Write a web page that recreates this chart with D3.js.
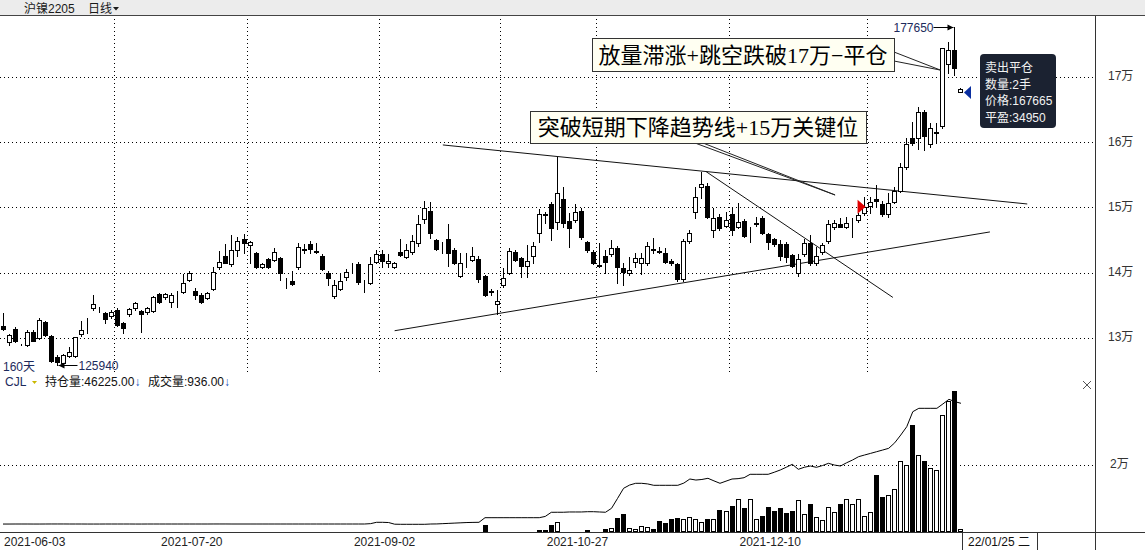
<!DOCTYPE html>
<html><head><meta charset="utf-8">
<script src="https://cdn.jsdelivr.net/npm/d3@7/dist/d3.min.js"></script>
<style>
html,body{margin:0;padding:0;background:#fff;overflow:hidden}
svg{display:block}
text{font-family:"Liberation Sans","Noto Sans CJK SC",sans-serif}
</style></head><body>
<svg id="chart" width="1145" height="550"></svg>
<script>
// ---------------- data ----------------
const symbol = "沪镍2205";
const period = "日线";
const startDate = "2021-06-03", endDate = "2022-01-25";
const holidays = ["2021-06-14","2021-09-20","2021-09-21","2021-10-01","2021-10-04","2021-10-05","2021-10-06","2021-10-07","2022-01-03"];

const opens = [131920,129520,131420,129020,129020,131050,130040,132490,130390,127220,
126210,127330,127330,130650,132300,134630,134400,133870,133460,134370,
132340,133720,134630,134220,134020,134270,136820,136320,135650,136670,
137080,138970,137240,136670,136170,137540,140910,142570,141420,143560,
145200,144300,143060,141000,142140,142030,142290,138800,138740,140910,
143600,144430,143400,142640,140080,136560,137540,139470,140300,141420,
138500,138460,141770,142900,141520,141000,143210,142530,143210,144680,
148260,149530,145090,144400,145240,143560,139580,142300,142030,142180,
139530,137100,135250,138160,140070,143250,142290,141160,142640,146210,
149000,150600,147800,151320,148000,148150,149530,144740,143210,141200,
142640,142950,143910,140760,139990,141770,141520,141520,143760,143450,
143060,141880,141420,139070,144980,149330,153160,153360,146620,148570,
147280,149030,147130,148000,146300,147490,148500,145960,145200,144480,
144430,142750,139990,142950,144590,141520,143300,144980,147030,147540,
147130,147800,148150,149180,150300,151300,150600,149070,150960,152640,
156310,160660,160660,164690,159790,161500,162540,172040,174180,167800];
const highs = [133870,130700,131770,129100,131310,131310,133150,132700,130500,127480,
127600,128760,130300,132740,133100,136670,134800,134100,134400,134600,
132600,134700,135650,134400,134800,136500,137000,137000,136900,137200,
139890,140350,137740,136900,137100,140910,143410,144430,145860,145500,
146010,145000,143300,141600,142300,143820,142500,139230,140350,144590,
144430,144980,144630,142900,140300,138970,139890,140600,141520,141770,
138900,142440,143560,143560,142900,141700,145200,144430,145860,148920,
151060,150860,145300,144800,147540,143800,143060,143150,144070,142600,
139800,137600,137440,140840,143820,143500,142500,144330,144830,149790,
149300,150830,157800,153160,149180,150600,150000,145000,143500,144680,
143560,145090,144200,141620,142530,143150,143150,144830,145350,144070,
143820,142200,141600,145200,146620,153160,155500,153800,149940,149000,
149420,149940,150710,148300,147130,148660,148800,146200,145400,145090,
144800,143000,142950,145200,145860,144070,144680,148150,148150,148410,
148660,148410,149180,151720,151720,153510,151000,152240,153250,156920,
160660,163200,165410,165000,162960,162960,174500,175450,177650,168300];
const lows = [131310,128970,129480,128950,128900,129600,129900,130400,126400,125940,
126000,127200,127200,130400,130900,134400,134000,132340,133200,131900,
130900,133500,134400,131050,133800,134100,135500,136100,134880,134880,
136900,138800,136060,135400,136000,137400,140700,141500,141160,142640,
143150,141520,140800,140800,140800,141900,138970,137700,138200,140700,
143150,143150,143100,140500,138200,136170,137400,139000,140000,138400,
137180,138300,141600,141000,141000,140800,142600,142400,143000,144170,
147740,145350,143600,143150,141110,141400,139400,141000,141800,138710,
136500,136700,133760,137900,139900,141800,139470,139470,141520,144740,
147650,145090,146800,147030,144020,147800,145300,143300,141400,140900,
139990,142700,138460,138200,139700,141000,139890,141300,143060,143060,
141520,141300,138800,138800,144700,148500,151500,148500,145600,146600,
147000,145860,146900,145500,144830,147300,146000,143670,144200,142000,
141720,141000,139580,142700,141300,141300,143000,144700,146800,147000,
146900,145600,147800,148900,149180,150190,148800,148600,150700,152400,
156000,159700,158980,158870,159300,159900,162240,170700,170350,167700];
const closes = [131510,130550,129670,129010,131050,129670,132840,130550,126610,126460,
127480,127990,130190,131310,132340,135290,134370,132950,134070,132080,
131570,134480,135400,133720,134630,136320,135650,136820,136670,136700,
138460,139990,136720,135600,136930,140150,141680,141620,143560,144980,
144560,144740,141000,141370,140910,143180,139990,138740,138310,143970,
143670,143760,143300,140600,139230,138200,138810,140240,140390,138620,
138460,141370,142900,141920,141920,141520,142790,143560,144940,147540,
149940,146120,143760,144430,143060,141620,141520,142380,142640,139150,
136670,137210,135800,139230,143330,141980,141110,141880,144170,149030,
148920,146970,152330,147650,146880,149420,145500,143560,141620,141160,
141770,143820,140910,140150,140500,142290,142290,144170,143560,143210,
141770,141520,139070,144980,146120,151630,153620,148660,148410,146880,
148150,146620,147890,145700,146360,147740,146120,144740,144430,142640,
142530,141110,142140,144590,141520,142640,144330,147540,147740,147130,
147740,147850,148920,150100,150960,151100,149070,150710,152640,156310,
159790,159900,164640,161010,162190,161580,174440,174180,171380,168250];
const volumes = [120,80,150,60,100,90,140,110,200,180,
130,90,160,120,100,140,80,110,90,130,
100,120,90,110,140,160,120,100,90,130,
150,170,120,110,100,160,180,140,200,150,
130,120,170,110,140,120,190,150,130,160,
140,110,120,180,160,150,130,120,140,170,
160,260,230,200,150,140,180,160,150,200,
190,170,160,150,220,180,170,160,150,240,
2000,300,250,280,320,260,300,280,350,380,
420,2000,2800,300,280,260,320,500,300,350,
800,1100,4200,5300,1100,700,1700,1300,700,3200,
2500,3700,4100,3700,4300,3700,3000,3700,3700,6500,
6200,7700,9800,7000,9800,3700,4600,7400,6200,7100,
5600,6200,9600,5200,8400,4500,3500,7500,6000,8400,
9900,8400,9900,4600,6000,17100,10500,11100,12900,21300,
20000,32000,23000,21300,19100,18500,35100,39300,42300,936];
const openInterest = [2760,2760,2770,2770,2770,2760,2760,2770,2780,2780,
2780,2770,2770,2770,2760,2760,2760,2770,2770,2770,
2770,2770,2760,2760,2770,2770,2770,2770,2770,2770,
2770,2770,2770,2770,2770,2780,2780,2780,2770,2770,
2770,2770,2770,2770,2770,2770,2770,2770,2770,2770,
2770,2770,2770,2770,2770,2770,2770,2770,2770,2770,
2770,2900,3380,3380,3300,2700,2660,2660,2660,2660,
2660,2770,2800,2900,3000,3100,3200,3300,3350,3380,
5040,5040,5040,5040,5040,5040,5040,5040,5040,5040,
5500,6980,7000,7000,7100,7100,7100,7200,7200,7100,
7000,8420,12000,15620,16800,17420,17420,17200,16700,16700,
16700,16700,16700,17500,18970,18600,18800,19220,18300,17420,
18200,18970,19100,19440,20660,20660,20660,20660,21400,22210,
23200,24260,22460,23200,23650,23180,23800,24620,24000,23650,
24800,25810,27000,27610,28200,28800,29400,30020,32000,34800,
37800,43200,44420,44420,44420,44420,46000,47660,46800,46225];

const priceTicks = [130000,140000,150000,160000,170000];
const volumeTicks = [20000];
const dateTicks = ["2021-06-03","2021-07-20","2021-09-02","2021-10-27","2021-12-10"];
const periodLabel = "160天";
const cursorLabel = "22/01/25 二";
const trade = {buyIndex:143, buyPrice:150190, sellIndex:159, sellPrice:167665, qty:2, profit:34950};
const trendLines = [
  [[73.0,159640],[170.0,150600]],
  [[65.0,131190],[163.8,146320]],
  [[116.7,155550],[147.7,136290]]
];
const notes = [
  {text:"放量滞涨+跳空跌破17万−平仓", target:[155.6,171100]},
  {text:"突破短期下降趋势线+15万关键位", target:[138.1,151980]}
];

// ---------------- layout ----------------
function buildTradingDays(start, end, closed) {
  const out = [];
  const e = new Date(end + "T00:00:00Z");
  for (let t = new Date(start + "T00:00:00Z"); t <= e; t = new Date(t.getTime() + 864e5)) {
    const wd = t.getUTCDay(), iso = t.toISOString().slice(0,10);
    if (wd === 0 || wd === 6 || closed.includes(iso)) continue;
    out.push(iso);
  }
  return out;
}
const dates = buildTradingDays(startDate, endDate, holidays);
const N = dates.length;
const axisX = 1095, mainTop = 17, mainBottom = 372, volBaseY = 531.7;

const svg = d3.select("#chart");
const x = d3.scaleBand().domain(dates).range([0, 964]);
const step = x.step();
const cx = i => x(dates[i]) + step / 2;
const xi = d3.scaleLinear().domain([0, N - 1]).range([cx(0), cx(N - 1)]);
const y = d3.scaleLinear().domain([130000, 170000]).range([338.5, 77.3]);
const yv = d3.scaleLinear().domain([0, 20000]).range([volBaseY, 465.3]);
const yoi = d3.scaleLinear().domain([0, 46225]).range([volBaseY, 403.3]);
const px = v => Math.floor(v) + 0.5;

// header
svg.append("rect").attr("x",0).attr("y",0).attr("width",1145).attr("height",16).attr("fill","#ececec");
svg.append("line").attr("x1",0).attr("x2",1145).attr("y1",15.5).attr("y2",15.5).attr("stroke","#444");
svg.append("text").attr("x",24).attr("y",12.5).attr("font-size",12).attr("fill","#1a1a1a").text(symbol);
svg.append("text").attr("x",88).attr("y",12.5).attr("font-size",12).attr("fill","#1a1a1a").text(period);
svg.append("path").attr("d","M113,7 L119,7 L116,10.5 Z").attr("fill","#1a1a1a");

// grid
const grid = svg.append("g").attr("stroke","#000").attr("stroke-dasharray","1,3").attr("shape-rendering","crispEdges");
grid.selectAll("line.h").data(priceTicks).join("line")
  .attr("x1",0).attr("x2",axisX).attr("y1",d=>px(y(d))).attr("y2",d=>px(y(d)));
const monthStarts = dates.filter((d,i)=> i>0 && d.slice(0,7) !== dates[i-1].slice(0,7));
grid.selectAll("line.v").data(monthStarts).join("line")
  .attr("x1",d=>px(x(d))).attr("x2",d=>px(x(d))).attr("y1",mainTop+2).attr("y2",mainBottom);
grid.selectAll("line.vv").data(volumeTicks).join("line")
  .attr("x1",0).attr("x2",axisX).attr("y1",d=>px(yv(d))).attr("y2",d=>px(yv(d)));

// trend lines
svg.append("g").selectAll("line").data(trendLines).join("line")
  .attr("x1",d=>xi(d[0][0])).attr("y1",d=>y(d[0][1]))
  .attr("x2",d=>xi(d[1][0])).attr("y2",d=>y(d[1][1]))
  .attr("stroke","#111").attr("stroke-width",1);

// candles
const idx = d3.range(N);
const cg = svg.append("g").attr("shape-rendering","crispEdges");
cg.selectAll("line.wick").data(idx).join("line")
  .attr("x1",i=>px(cx(i))).attr("x2",i=>px(cx(i)))
  .attr("y1",i=>Math.round(y(highs[i]))).attr("y2",i=>Math.round(y(lows[i]))+1)
  .attr("stroke","#000");
cg.selectAll("rect.body").data(idx).join("rect")
  .attr("x",i=>px(cx(i))-2).attr("width",4)
  .attr("y",i=>Math.round(y(Math.max(opens[i],closes[i])))+0.5)
  .attr("height",i=>Math.max(0, Math.round(y(Math.min(opens[i],closes[i]))) - Math.round(y(Math.max(opens[i],closes[i])))))
  .attr("fill",i=>closes[i]>=opens[i]?"#fff":"#000").attr("stroke","#000");

// volume bars + open interest line
const vg = svg.append("g").attr("shape-rendering","crispEdges");
vg.selectAll("rect").data(idx).join("rect")
  .attr("x",i=>px(cx(i))-2).attr("width",4)
  .attr("y",i=>Math.round(yv(volumes[i]))+0.5)
  .attr("height",i=>Math.max(0, Math.round(volBaseY) - Math.round(yv(volumes[i])) - 1))
  .attr("fill",i=>closes[i]>=opens[i]?"#fff":"#000").attr("stroke","#000");
svg.append("path").datum(openInterest)
  .attr("d", d3.line().x((d,i)=>cx(i)).y(d=>yoi(d)))
  .attr("fill","none").attr("stroke","#000").attr("stroke-width",1);

// annotation boxes
const boxStyle = [{x:592,y:38,w:302,h:33},{x:530,y:111,w:336,h:32}];
const starts = [[[894,52],[894,61]],[[695,143],[703,143]]];
notes.forEach((n,k)=>{
  const b = boxStyle[k];
  const tx = xi(n.target[0]), ty = y(n.target[1]);
  starts[k].forEach(s=>svg.append("line").attr("x1",s[0]).attr("y1",s[1]).attr("x2",tx).attr("y2",ty).attr("stroke","#222"));
  svg.append("rect").attr("x",b.x+0.5).attr("y",b.y+0.5).attr("width",b.w).attr("height",b.h)
    .attr("fill","#fffff2").attr("stroke","#333");
  svg.append("text").attr("x",b.x+b.w/2).attr("y",b.y+b.h/2+8).attr("text-anchor","middle")
    .attr("font-size",22).attr("fill","#000")
    .style("font-family",'"Liberation Serif","Noto Sans CJK SC",serif').text(n.text);
});

// trade markers
const bx = cx(trade.buyIndex), by = y(trade.buyPrice);
svg.append("path").attr("d",`M${bx-7},${by-7} L${bx+1},${by} L${bx-7},${by+7} Z`).attr("fill","#e00000");
const sx = cx(trade.sellIndex), sy = y(trade.sellPrice);
svg.append("path").attr("d",`M${sx+3},${sy} L${sx+10},${sy-6.5} L${sx+10},${sy+6.5} Z`).attr("fill","#0a2fa0");

// tooltip
const tip = svg.append("g").attr("transform","translate(980,54)");
tip.append("rect").attr("width",76).attr("height",74).attr("rx",4).attr("fill","#1b2231");
["卖出平仓", "数量:" + trade.qty + "手", "价格:" + trade.sellPrice, "平盈:" + trade.profit].forEach((t,k)=>{
  tip.append("text").attr("x",5).attr("y",18+k*16.7).attr("font-size",12).attr("fill","#f2f2f2").text(t);
});

// max / min labels
const iMax = d3.maxIndex(highs), iMin = d3.minIndex(lows);
const mxX = px(cx(iMax)), mxY = Math.round(y(highs[iMax]))+0.5;
svg.append("line").attr("x1",mxX-21).attr("x2",mxX-1).attr("y1",mxY).attr("y2",mxY).attr("stroke","#000");
svg.append("path").attr("d",`M${mxX-1},${mxY} L${mxX-7},${mxY-3} L${mxX-7},${mxY+3} Z`).attr("fill","#000");
svg.append("text").attr("x",mxX-21).attr("y",mxY+4.5).attr("text-anchor","end").attr("font-size",12).attr("fill","#1c2a5c").text(d3.max(highs));
const mnX = px(cx(iMin)), mnY = Math.round(y(lows[iMin]))+0.5;
svg.append("line").attr("x1",mnX+1).attr("x2",mnX+20).attr("y1",mnY).attr("y2",mnY).attr("stroke","#000");
svg.append("path").attr("d",`M${mnX+1},${mnY} L${mnX+7},${mnY-3} L${mnX+7},${mnY+3} Z`).attr("fill","#000");
svg.append("text").attr("x",mnX+21).attr("y",mnY+4.5).attr("font-size",12).attr("fill","#1c2a5c").text(d3.min(lows));
svg.append("text").attr("x",3).attr("y",370.5).attr("font-size",12).attr("fill","#1c2a5c").text(periodLabel);

// volume header
const vh = svg.append("g").attr("font-size",12);
vh.append("text").attr("x",5).attr("y",386).attr("fill","#1c2a5c").text("CJL");
vh.append("path").attr("d","M32,381 L37,381 L34.5,384 Z").attr("fill","#c9b800");
const t1 = vh.append("text").attr("x",45).attr("y",386).attr("fill","#111");
t1.append("tspan").text("持仓量:" + openInterest[N-1].toFixed(2));
t1.append("tspan").attr("fill","#2050c0").text("↓");
const t2 = vh.append("text").attr("x",148).attr("y",386).attr("fill","#111");
t2.append("tspan").text("成交量:" + volumes[N-1].toFixed(2));
t2.append("tspan").attr("fill","#2050c0").text("↓");
svg.append("path").attr("d","M1083,381 L1091,389 M1091,381 L1083,389").attr("stroke","#555");

// axes
const yAxis = d3.axisRight(y).tickValues(priceTicks).tickFormat(v=>v/10000+"万").tickSize(0).tickPadding(13);
const gy = svg.append("g").attr("transform",`translate(${axisX},0)`).call(yAxis);
const vAxis = d3.axisRight(yv).tickValues(volumeTicks).tickFormat(v=>v/10000+"万").tickSize(0).tickPadding(15);
const gvy = svg.append("g").attr("transform",`translate(${axisX},0)`).call(vAxis);
[gy,gvy].forEach(g=>{g.select(".domain").remove(); g.selectAll("text").attr("font-size",12).attr("fill","#333").attr("dy","0.2em").style("font-family",null);});

const xAxis = d3.axisBottom(x).tickValues(dateTicks).tickSize(0);
const gx = svg.append("g").attr("transform",`translate(${-step/2-1},532)`).call(xAxis);
gx.select(".domain").remove();
gx.selectAll("text").attr("font-size",12).attr("fill","#222").attr("y",14).attr("dy",0).style("font-family",null);
gx.selectAll("text").filter(d=>d===dates[0]).attr("text-anchor","start").attr("x",5);

svg.append("line").attr("x1",0).attr("x2",1145).attr("y1",532.5).attr("y2",532.5).attr("stroke","#333");
svg.append("line").attr("x1",axisX+0.5).attr("x2",axisX+0.5).attr("y1",16).attr("y2",550).attr("stroke","#333");

// cursor date box
svg.append("rect").attr("x",962.5).attr("y",532.5).attr("width",75).attr("height",18).attr("fill","#fff").attr("stroke","#333");
svg.append("text").attr("x",968).attr("y",546).attr("font-size",12).attr("fill","#111").text(cursorLabel);
</script>
</body></html>
